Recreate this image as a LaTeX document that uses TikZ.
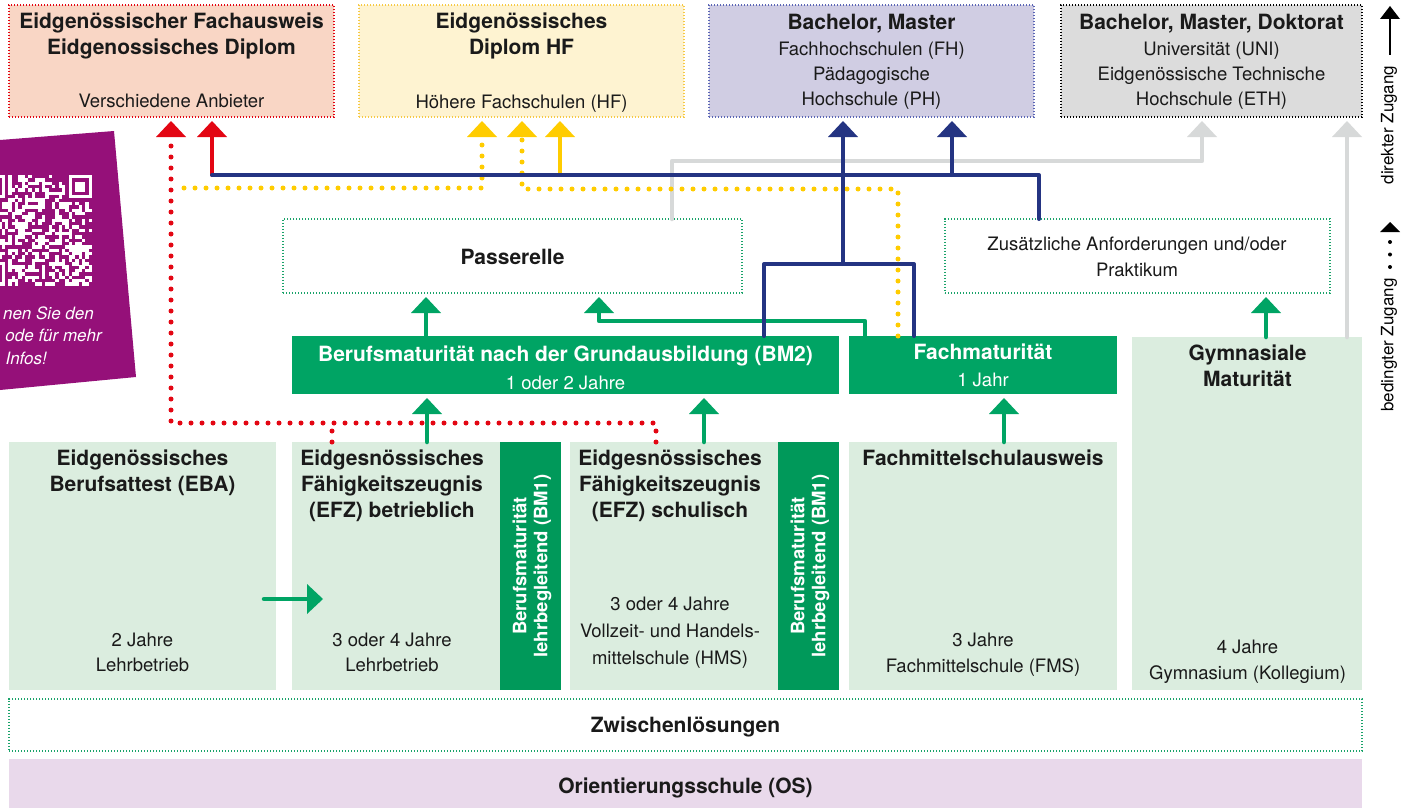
\documentclass[tikz,border=0pt]{standalone}
\usepackage{fontspec}
\setmainfont{TeX Gyre Heros}
\usetikzlibrary{arrows.meta}
\definecolor{ink}{HTML}{1A1A1A}
\definecolor{redc}{HTML}{E30613}
\definecolor{yelc}{HTML}{FFCC00}
\definecolor{navyc}{HTML}{243482}
\definecolor{greyc}{HTML}{D7D9D9}
\definecolor{greenc}{HTML}{00A464}
\definecolor{bmgreen}{HTML}{00995A}
\definecolor{lightgreen}{HTML}{DBEDDF}
\definecolor{peach}{HTML}{F9D6C5}
\definecolor{cream}{HTML}{FEF3D1}
\definecolor{lav}{HTML}{D0CDE3}
\definecolor{lgrey}{HTML}{DCDCDC}
\definecolor{qrpurple}{HTML}{951079}
\definecolor{lilac}{HTML}{E9D9EB}
\definecolor{dotgreen}{HTML}{1AA36A}
\definecolor{dotblue}{HTML}{5B66B5}
\definecolor{dotyel}{HTML}{F6C945}

\begin{document}
\begin{tikzpicture}[x=1pt,y=-1pt,
  box/.style={inner sep=0pt,outer sep=0pt,anchor=north west},
  dotbord/.style={line width=1.2pt,dash pattern=on 1.2pt off 1.8pt},
  hd/.style={font=\fontsize{21}{26}\selectfont\bfseries,text=ink,align=center,inner sep=0pt,anchor=base},
  tx/.style={font=\fontsize{18.5}{25}\selectfont,text=ink,align=center,inner sep=0pt,anchor=base},
  lg/.style={font=\fontsize{17}{20}\selectfont,text=black,inner sep=0pt},
  qrtx/.style={font=\fontsize{17}{20}\selectfont\itshape,text=white,inner sep=0pt,anchor=base east},
  arr/.style={-{Triangle[width=30pt,length=16pt,line width=0pt]},shorten >=4pt},
  navyln/.style={draw=navyc,line width=4pt,line cap=round,line join=round},
  greyln/.style={draw=greyc,line width=4.5pt,line cap=round,line join=round},
  greenln/.style={draw=greenc,line width=4.5pt,line cap=round,line join=round},
  redln/.style={draw=redc,line width=4pt,line cap=round},
  yelln/.style={draw=yelc,line width=4pt,line cap=round},
  reddots/.style={draw=redc,line width=5pt,line cap=round,dash pattern=on 0pt off 11pt},
  yeldots/.style={draw=yelc,line width=5pt,line cap=round,dash pattern=on 0pt off 11pt}]
\useasboundingbox (0,0) rectangle (1409,808);

\node[box,fill=peach,draw=redc,dotbord,minimum width=325pt,minimum height=112pt] (fa) at (9,5) {};
\node[box,fill=cream,draw=dotyel,dotbord,minimum width=325pt,minimum height=112pt] (hf) at (359,5) {};
\node[box,fill=lav,draw=dotblue,dotbord,minimum width=325pt,minimum height=112pt] (fh) at (709,5) {};
\node[box,fill=lgrey,draw=black,dotbord,minimum width=301pt,minimum height=112pt] (eth) at (1061,5) {};
\node[box,fill=white,draw=dotgreen,dotbord,minimum width=459pt,minimum height=74pt] (pas) at (283,219) {};
\node[box,fill=white,draw=dotgreen,dotbord,minimum width=385pt,minimum height=74pt] (zus) at (945,219) {};
\node[box,fill=greenc,minimum width=547pt,minimum height=58pt] (bmtwo) at (292,336) {};
\node[box,fill=greenc,minimum width=268pt,minimum height=58pt] (fmat) at (849,336) {};
\node[box,fill=lightgreen,minimum width=230pt,minimum height=353pt] (gym) at (1132,337) {};
\node[box,fill=lightgreen,minimum width=267pt,minimum height=248pt] (eba) at (9,442) {};
\node[box,fill=lightgreen,minimum width=208pt,minimum height=248pt] (efzb) at (292,442) {};
\node[box,fill=bmgreen,minimum width=61pt,minimum height=248pt] (bma) at (500,442) {};
\node[box,fill=lightgreen,minimum width=208pt,minimum height=248pt] (efzs) at (570,442) {};
\node[box,fill=bmgreen,minimum width=61pt,minimum height=248pt] (bmb) at (778,442) {};
\node[box,fill=lightgreen,minimum width=268pt,minimum height=248pt] (fms) at (849,442) {};
\node[box,fill=white,draw=dotgreen,dotbord,minimum width=1353pt,minimum height=52pt] (zwi) at (9,699) {};
\node[box,fill=lilac,minimum width=1353pt,minimum height=49pt] (os) at (9,759) {};

\begin{scope}
\clip (0,140) -- (114,131) -- (136,377) -- (0,390) -- cycle;
\fill[qrpurple] (0,128) rectangle (140,392);
\pgfmathsetseed{11}
\foreach \r in {0,...,32}{
  \foreach \c in {0,...,32}{
    \pgfmathtruncatemacro\qon{(rnd<0.45)&&!((\r<8&&(\c<8||\c>24))||(\r>24&&\c<8))}
    \ifnum\qon=1 \fill[white] (-18.5+3.35*\c,175+3.35*\r) rectangle ++(3.4,3.4);\fi
  }
}
\foreach \c/\r in {0/0,26/0,0/26}{
  \fill[white] (-18.5+3.35*\c,175+3.35*\r) rectangle ++(23.45,23.45);
  \fill[qrpurple] (-15.15+3.35*\c,178.35+3.35*\r) rectangle ++(16.75,16.75);
  \fill[white] (-11.8+3.35*\c,181.7+3.35*\r) rectangle ++(10.05,10.05);
}
\node[qrtx] (qra) at (94,319) {nen Sie den};
\node[qrtx] (qrb) at (102,341) {ode für mehr};
\node[qrtx] (qrc) at (47,364) {Infos!};
\end{scope}

\node[hd] (fat) at (171.5,55) {Eidgenössischer Fachausweis\\Eidgenossisches Diplom};
\node[tx] (fas) at (171.5,107.5) {Verschiedene Anbieter};
\node[hd] (hft) at (521.5,55) {Eidgenössisches\\Diplom HF};
\node[tx] (hfs) at (521.5,109) {Höhere Fachschulen (HF)};
\node[hd] (fht) at (871.5,29.5) {Bachelor, Master};
\node[tx] (fhs) at (871.5,105.5) {Fachhochschulen (FH)\\Pädagogische\\Hochschule (PH)};
\node[hd] (etht) at (1211.5,29.5) {Bachelor, Master, Doktorat};
\node[tx] (eths) at (1211.5,105.5) {Universität (UNI)\\Eidgenössische Technische\\Hochschule (ETH)};
\node[hd] (past) at (512.5,264.5) {Passerelle};
\node[tx] (zust) at (1137,276) {Zusätzliche Anforderungen und/oder\\[1pt]Praktikum};
\node[hd,text=white] (bmtwot) at (565.5,361.5) {Berufsmaturität nach der Grundausbildung (BM2)};
\node[tx,text=white] (bmtwos) at (565.5,389) {1 oder 2 Jahre};
\node[hd,text=white] (fmatt) at (983,359.5) {Fachmaturität};
\node[tx,text=white] (fmats) at (983,386.5) {1 Jahr};
\node[hd] (gymt) at (1247.5,386) {Gymnasiale\\Maturität};
\node[tx] (gyms) at (1247.5,679) {4 Jahre\\[1pt]Gymnasium (Kollegium)};
\node[hd] (ebat) at (142.5,491) {Eidgenössisches\\Berufsattest (EBA)};
\node[tx] (ebas) at (142.5,671.5) {2 Jahre\\Lehrbetrieb};
\node[hd] (efzbt) at (392,517) {Eidgesnössisches\\Fähigkeitszeugnis\\(EFZ) betrieblich};
\node[tx] (efzbs) at (392,671.5) {3 oder 4 Jahre\\Lehrbetrieb};
\node[hd] (efzst) at (670,517) {Eidgesnössisches\\Fähigkeitszeugnis\\(EFZ) schulisch};
\node[tx] (efzss) at (670,664.5) {3 oder 4 Jahre\\[2pt]Vollzeit- und Handels-\\[2pt]mittelschule (HMS)};
\node[hd] (fmst) at (983,465) {Fachmittelschulausweis};
\node[tx] (fmss) at (983,672.5) {3 Jahre\\[1pt]Fachmittelschule (FMS)};
\node[font=\fontsize{18.5}{21}\selectfont\bfseries,text=white,align=center,inner sep=0pt,rotate=90] (bmat) at (532,566) {Berufsmaturität\\lehrbegleitend (BM1)};
\node[font=\fontsize{18.5}{21}\selectfont\bfseries,text=white,align=center,inner sep=0pt,rotate=90] (bmbt) at (810,566) {Berufsmaturität\\lehrbegleitend (BM1)};
\node[hd] (zwit) at (685.5,732) {Zwischenlösungen};
\node[hd] (ost) at (685.5,793) {Orientierungsschule (OS)};

\coordinate (ebaout) at (264,599);
\coordinate (efzin) at (323,599);
\coordinate (ystart) at (184,188);
\coordinate (bjoin) at (843,264);
\coordinate (redturn) at (212,175);
\coordinate (jhf) at (560,175);
\coordinate (jfh) at (952,175);

\draw[greyln,arr] (pas.north -| 672,0) |- (1202,161) -- (eth.south -| 1202,0);
\draw[greyln,arr] (gym.north -| 1347,0) -- (eth.south -| 1347,0);
\draw[greenln,arr] (bmtwo.north -| 426,0) -- (pas.south -| 426,0);
\draw[greenln,arr] (fmat.north -| 865,0) |- (599,321) -- (pas.south -| 599,0);
\draw[greenln,arr] (gym.north -| 1266,0) -- (zus.south -| 1266,0);
\draw[greenln,arr] (efzb.north -| 427,0) -- (bmtwo.south -| 427,0);
\draw[greenln,arr] (efzs.north -| 704,0) -- (bmtwo.south -| 704,0);
\draw[greenln,arr] (fms.north -| 1004,0) -- (fmat.south -| 1004,0);
\draw[greenln,-{Triangle[width=30pt,length=16pt,line width=0pt]}] (ebaout) -- (efzin);
\draw[yeldots,arr] (ystart) -| (hf.south -| 482,0);
\draw[yeldots,arr] (fmat.north -| 898,0) |- (522,189) -- (hf.south -| 522,0);
\draw[reddots] (efzb.north -| 332,0) -- (332,423);
\draw[reddots,arr] (efzs.north -| 656,0) |- (171,423) -- (fa.south -| 171,0);
\draw[redln,arr] (redturn) -- (fa.south -| 212,0);
\draw[yelln,arr] (jhf) -- (hf.south -| 560,0);
\draw[navyln,arr] (jfh) -- (fh.south -| 952,0);
\draw[navyln] (zus.north -| 1039,0) |- (redturn);
\draw[navyln] (bmtwo.north -| 764,0) |- (914,264) -- (fmat.north -| 914,0);
\draw[navyln,arr] (bjoin) -- (fh.south -| 843,0);

\coordinate (lga) at (1390,55);
\coordinate (lgat) at (1390,6);
\coordinate (lgb) at (1390,267);
\coordinate (lgbt) at (1390,222);
\draw[line width=2pt,-{Triangle[width=20pt,length=13pt,line width=0pt]}] (lga) -- (lgat);
\draw[line width=4pt,line cap=round,dash pattern=on 0pt off 12.5pt,-{Triangle[width=20pt,length=10pt,line width=0pt]}] (lgb) -- (lgbt);
\node[lg,rotate=90] (lgtxa) at (1389,125) {direkter Zugang};
\node[lg,rotate=90] (lgtxb) at (1389,345) {bedingter Zugang};
\end{tikzpicture}
\end{document}
